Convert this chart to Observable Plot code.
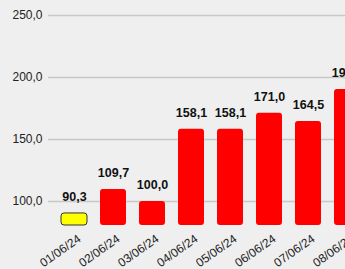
<!DOCTYPE html>
<html><head><meta charset="utf-8">
<script src="https://cdn.jsdelivr.net/npm/d3@7"></script>
<script src="https://cdn.jsdelivr.net/npm/@observablehq/plot@0.6"></script>
<style>
html,body{margin:0;padding:0;background:#efefef;overflow:hidden;}
#chart{width:345px;height:269px;overflow:hidden;}
</style></head>
<body><div id="chart"></div>
<script>
const dates = ["01/06/24","02/06/24","03/06/24","04/06/24","05/06/24","06/06/24","07/06/24","08/06/24"];
const values = [90.3, 109.7, 100.0, 158.1, 158.1, 171.0, 164.5, 190.3];
const colors = ["#ffff00","#ff0000","#ff0000","#ff0000","#ff0000","#ff0000","#ff0000","#ff0000"];
const strokes = ["#333333","none","none","none","none","none","none","none"];
const yTicks = [100, 150, 200, 250];

const data = dates.map((d, i) => ({date: d, value: values[i], fill: colors[i], stroke: strokes[i]}));
const fmt = v => v.toFixed(1).replace(".", ",");

const plot = Plot.plot({
  width: 345, height: 269,
  marginTop: 0, marginBottom: 44, marginLeft: 48, marginRight: 0,
  style: {background: "#efefef", fontFamily: "'Liberation Sans', Arial, sans-serif", overflow: "hidden"},
  x: {domain: dates, range: [48, 373], padding: 0.333, label: null},
  y: {domain: [80.6, 262], label: null},
  marks: [
    Plot.gridY(yTicks, {stroke: "#c8c8c8", strokeOpacity: 1, strokeWidth: 1.5}),
    Plot.axisY(yTicks, {tickSize: 0, tickPadding: 6, tickFormat: fmt, fontSize: 12, fill: "#222", label: null}),
    Plot.axisX({tickSize: 0, tickRotate: -35, tickPadding: 12, dx: 5, fontSize: 12, fill: "#222", label: null}),
    Plot.barY(data, {x: "date", y1: 80.6, y2: "value", fill: d => d.fill, stroke: d => d.stroke, strokeWidth: 1, rx: 3}),
    Plot.text(data, {x: "date", y: "value", text: d => fmt(d.value), lineAnchor: "bottom", dy: -12, fontSize: 12.5, fontWeight: "bold", fill: "#111"})
  ]
});
document.getElementById("chart").appendChild(plot);
</script></body></html>
